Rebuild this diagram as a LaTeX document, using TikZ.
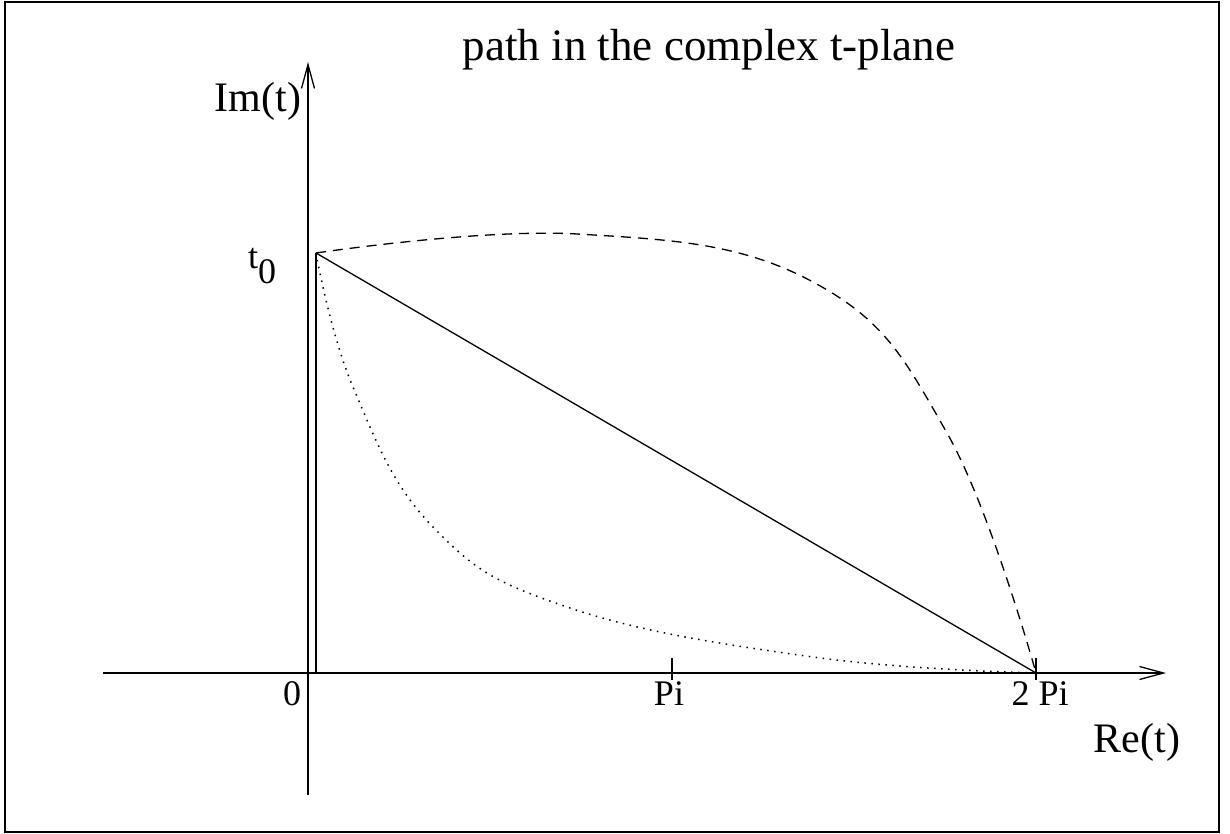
\documentclass[tikz,border=0pt]{standalone}
\usepackage{fontspec}
\setmainfont{Liberation Serif}
\usetikzlibrary{arrows.meta}
\begin{document}
\begin{tikzpicture}[x=1pt,y=-1pt,
  axis/.style={line width=1.3pt,-{Straight Barb[length=24pt,width=13pt,line width=1.3pt]}},
  thin line/.style={line width=1.3pt},
  tick/.style={line width=1.3pt},
  dashedcurve/.style={line width=1.3pt,dash pattern=on 10pt off 7pt},
  dottedcurve/.style={line width=1.5pt,dash pattern=on 1.5pt off 5.5pt},
  lbl/.style={inner sep=0pt,font=\fontsize{36}{40}\selectfont},
  biglbl/.style={inner sep=0pt,font=\fontsize{42}{48}\selectfont},
  titlelbl/.style={inner sep=0pt,font=\fontsize{45}{50}\selectfont}]
\useasboundingbox (0,0) rectangle (1230,834);
\draw[line width=2pt] (4.5,2) rectangle (1218.5,832);
% coordinates
\coordinate (xs) at (103,673);
\coordinate (xe) at (1166,673);
\coordinate (ys) at (308,795);
\coordinate (ye) at (308,62);
\coordinate (t0) at (316,253);
\coordinate (tb) at (316,673);
\coordinate (tp) at (1036,673);
\coordinate (pi) at (672,673);
% axes
\draw[axis] (xs) -- (xe);
\draw[axis] (ys) -- (ye);
\draw[thin line] (tb) -- (t0);
% ticks
\draw[tick] ([yshift=-7pt]pi) -- ([yshift=15pt]pi);
\draw[tick] ([yshift=-7pt]tp) -- ([yshift=15pt]tp);
% paths
\draw[thin line] (t0) -- (tp);
\draw[dashedcurve] plot[smooth,tension=0.7] coordinates {(t0) (577,234) (813,282) (947,433) (tp)};
\draw[dottedcurve] plot[smooth,tension=0.7] coordinates {(t0) (353,387) (433,527) (567,607) (813,657) (tp)};
% labels
\node[titlelbl,anchor=base] (title) at (709,61) {path in the complex t-plane};
\node[biglbl,anchor=base] (im) at (258,112) {Im(t)};
\node[biglbl,anchor=base] (re) at (1137,752) {Re(t)};
\node[lbl,anchor=base] (zero) at (292,705) {0};
\node[lbl,anchor=base] (pil) at (669,705) {Pi};
\node[lbl,anchor=base] (tpl) at (1040,705) {2 Pi};
\node[lbl,anchor=base west] (t0l) at (248,268) {t\raisebox{-15pt}{0}};
\end{tikzpicture}
\end{document}
